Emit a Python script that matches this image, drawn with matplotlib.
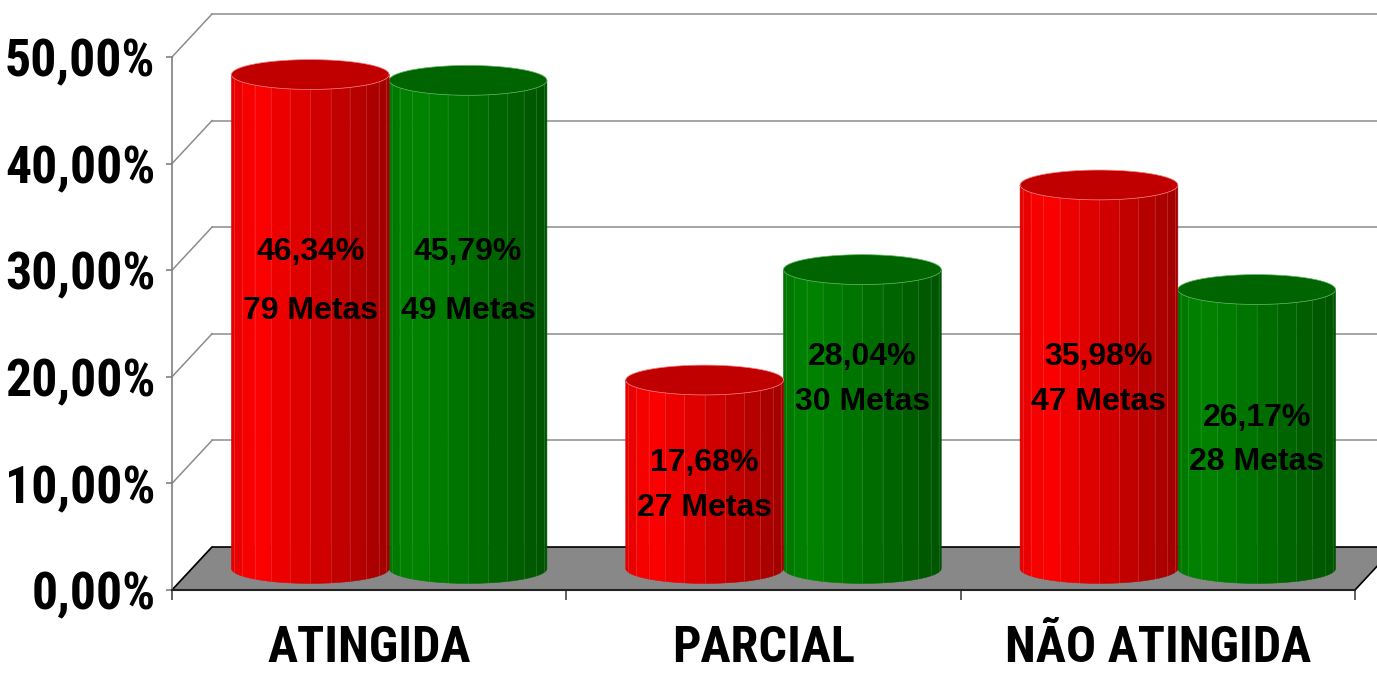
import numpy as np
import matplotlib
matplotlib.use('Agg')
import matplotlib.pyplot as plt
from matplotlib.patches import Polygon
from matplotlib import font_manager as fm
from matplotlib.font_manager import FontProperties
from matplotlib.textpath import TextPath

# ---------------- data ----------------
categories = ['ATINGIDA', 'PARCIAL', 'NÃO ATINGIDA']
red_values = [46.34, 17.68, 35.98]
green_values = [45.79, 28.04, 26.17]
red_metas = [79, 27, 47]
green_metas = [49, 30, 28]
y_ticks = [0, 10, 20, 30, 40, 50]
y_tick_labels = ['0,00%', '10,00%', '20,00%', '30,00%', '40,00%', '50,00%']

# label layout (data-unit heights of the two label lines, placed manually in original)
red_label_y = [(31.7, 26.2), (11.9, 7.7), (21.9, 17.6)]
green_label_y = [(31.7, 26.2), (21.9, 17.6), (16.1, 12.0)]


# ---------------- fonts ----------------
def pick_narrow():
    prefs = ['Arial Narrow', 'Liberation Sans Narrow', 'Nimbus Sans Narrow',
             'Roboto Condensed', 'Pragati Narrow', 'IBM Plex Sans Condensed',
             'Encode Sans Condensed', 'Archivo Narrow', 'PT Sans Narrow',
             'Open Sans Condensed', 'Fira Sans Condensed', 'Barlow Semi Condensed',
             'Asap Condensed']
    avail = {}
    for f in fm.fontManager.ttflist:
        try:
            w = int(f.weight)
        except Exception:
            w = 700 if str(f.weight) == 'bold' else 400
        if f.style == 'normal' and w >= 700:
            avail[f.name] = True
    for p in prefs:
        if p in avail:
            return p
    return 'Liberation Sans'


NARROW = pick_narrow()


def fit_size(text, target_w_px, target_h_px, family):
    prop = FontProperties(family=family, weight='bold')
    tp = TextPath((0, 0), text, size=1, prop=prop)
    w = tp.get_extents().width
    hp = TextPath((0, 0), '0', size=1, prop=prop).get_extents().height
    size_px = min(target_w_px / w, target_h_px / hp)
    return size_px * 72 / 100.0


tick_fs = fit_size('50,00%', 146, 42, NARROW)
cat_fs = fit_size('ATINGIDA', 202, 40, NARROW)

# ---------------- figure ----------------
W, H = 1377, 675
fig = plt.figure(figsize=(W / 100, H / 100), dpi=100)
fig.patch.set_facecolor('white')
ax = fig.add_axes([172 / W, (H - 590) / H, (1355 - 172) / W, (590 - 57) / H])
ax.set_xlim(0, 3)
ax.set_ylim(0, 50)
ax.set_facecolor('none')

px_x = (1355 - 172) / 3.0   # px per category
px_y = (590 - 57) / 50.0    # px per percent
DX = 40 / px_x
DY = 43 / px_y

# back wall gridlines + diagonals
for t in y_ticks:
    if t > 0:
        ax.plot([DX, 3 + DX + 0.2], [t + DY, t + DY], color='#8c8c8c', lw=1.1,
                clip_on=False, zorder=1)
    ax.plot([0, DX], [t, t + DY], color='#8c8c8c', lw=1.1, clip_on=False, zorder=1)

# floor
floor = Polygon([(0, 0), (3, 0), (3 + DX, DY), (DX, DY)], closed=True,
                facecolor='#888888', edgecolor='black', lw=1.2, clip_on=False, zorder=2)
ax.add_patch(floor)


def shade(u):
    if u < 0.15:
        return 0.88 + (1.0 - 0.88) * u / 0.15
    return 1.0 - 0.38 * (u - 0.15) / 0.85


def cylinder(xc, r, base, top, e, rgb, top_rgb, line_rgb, n=12, z=3):
    thetas = np.linspace(np.pi, 0, n + 1)
    for i in range(n):
        t0, t1 = thetas[i], thetas[i + 1]
        ts = np.linspace(t0, t1, 5)
        xs = xc + r * np.cos(ts)
        u = (xs.mean() - (xc - r)) / (2 * r)
        I = shade(u)
        col = tuple(min(1.0, c * I) for c in rgb)
        yb = base - e * np.sin(ts)
        yt = top - e * np.sin(ts)
        verts = list(zip(xs, yb)) + list(zip(xs[::-1], yt[::-1]))
        ax.add_patch(Polygon(verts, closed=True, facecolor=col, edgecolor=col,
                             lw=0.4, clip_on=False, zorder=z))
    for t in thetas[1:-1]:
        x = xc + r * np.cos(t)
        ax.plot([x, x], [base - e * np.sin(t), top - e * np.sin(t)],
                color=line_rgb, lw=0.6, alpha=0.28, clip_on=False, zorder=z + 0.1)
    ts = np.linspace(0, 2 * np.pi, 120)
    ax.add_patch(Polygon(np.c_[xc + r * np.cos(ts), top + e * np.sin(ts)], closed=True,
                         facecolor=top_rgb, edgecolor=line_rgb, lw=0.5,
                         clip_on=False, zorder=z + 0.2))


R = 0.2
E = 1.4
BASE = DY / 2
RED = (1.0, 0.0, 0.0)
GREEN = (0.0, 0.52, 0.0)

for i, cat in enumerate(categories):
    xr = i + 0.5 - R + DX / 2
    xg = i + 0.5 + R + DX / 2
    cylinder(xg, R, BASE, BASE + green_values[i], E, GREEN, '#006400', '#5fb85f', z=3)
    cylinder(xr, R, BASE, BASE + red_values[i], E, RED, '#c00000', '#ff8080', z=4)
    for xc, val, met, ly in ((xr, red_values[i], red_metas[i], red_label_y[i]),
                             (xg, green_values[i], green_metas[i], green_label_y[i])):
        pct = f'{val:.2f}%'.replace('.', ',')
        ax.text(xc, ly[0], pct, ha='center', va='center', fontsize=23,
                fontweight='bold', family='Liberation Sans', color='black', zorder=10)
        ax.text(xc, ly[1], f'{met} Metas', ha='center', va='center', fontsize=23,
                fontweight='bold', family='Liberation Sans', color='black', zorder=10)

# axes styling
for s in ['top', 'right']:
    ax.spines[s].set_visible(False)
ax.spines['left'].set_color('#808080')
ax.spines['left'].set_linewidth(1.2)
ax.spines['bottom'].set_color('#222222')
ax.spines['bottom'].set_linewidth(1.5)
ax.spines['left'].set_zorder(5)
ax.spines['bottom'].set_zorder(5)

ax.set_yticks(y_ticks)
ax.set_yticklabels(y_tick_labels, family=NARROW, fontweight='bold', fontsize=tick_fs)
ax.tick_params(axis='y', direction='out', length=4, width=1.2, color='#808080', pad=8)

ax.set_xticks([0, 1, 2, 3])
ax.set_xticklabels([])
ax.tick_params(axis='x', direction='out', length=7, width=1.2, color='#444444')
for i, cat in enumerate(categories):
    ax.text(i + 0.5, (590 - 648) / px_y, cat, ha='center', va='center',
            family=NARROW, fontweight='bold', fontsize=cat_fs,
            color='black', clip_on=False)

fig.savefig('out.png', dpi=100)
